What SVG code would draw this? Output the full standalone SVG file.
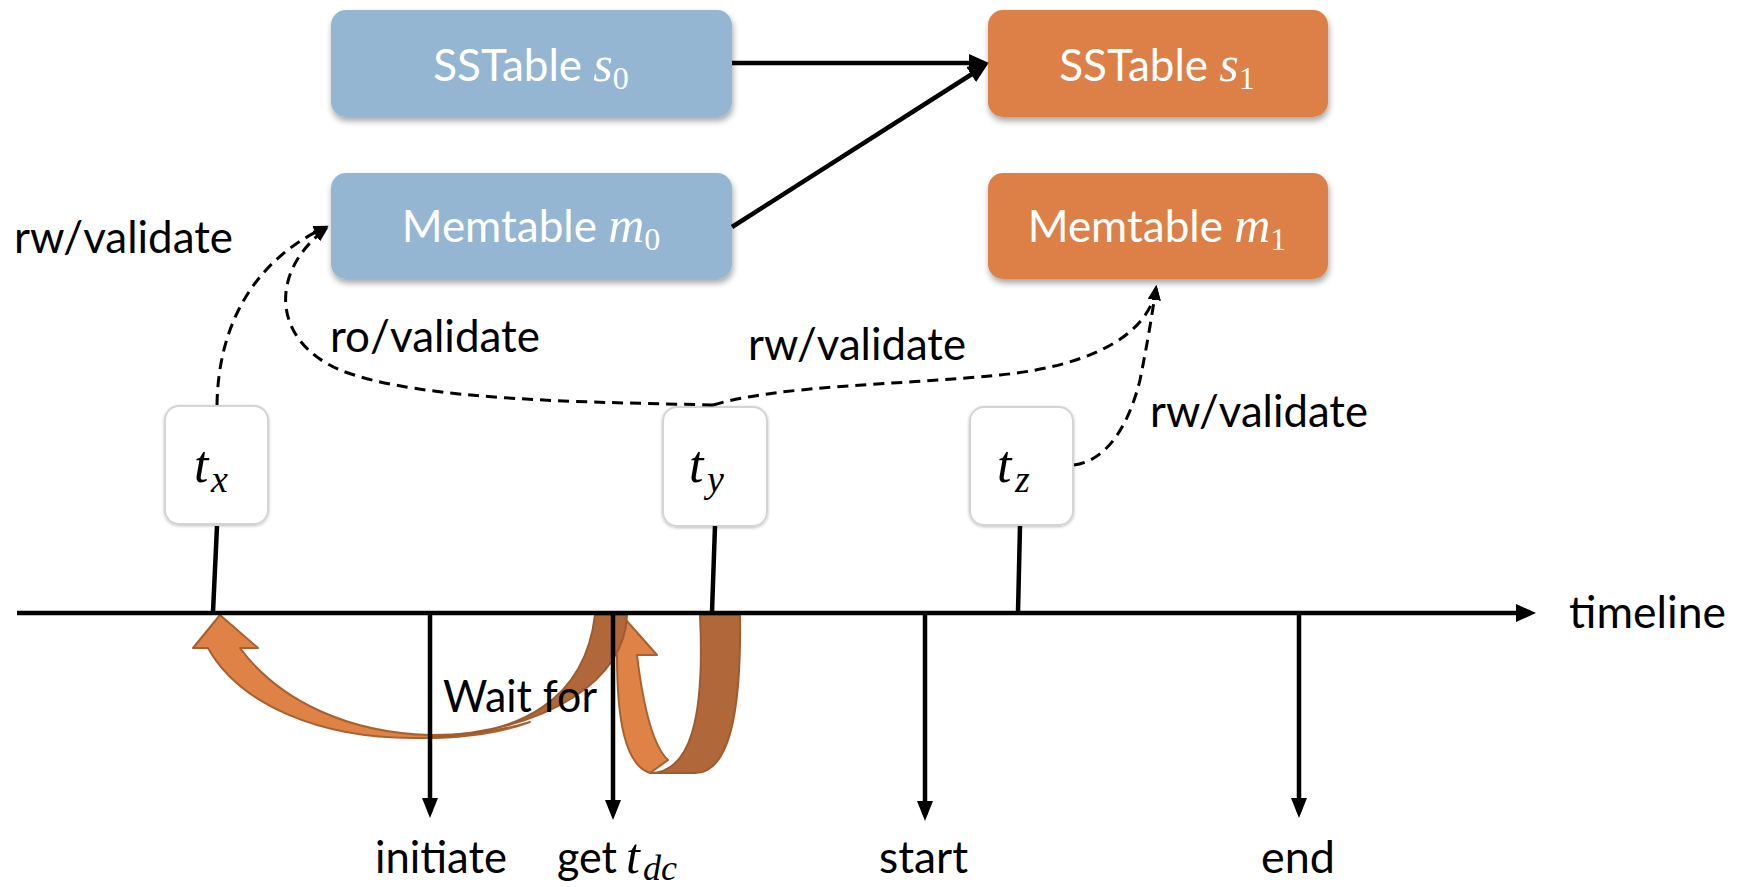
<svg xmlns="http://www.w3.org/2000/svg" width="1746" height="887" viewBox="0 0 1746 887">
<style>
.box-b{fill:#95B6D3;filter:url(#sh)}
.box-o{fill:#DD8047;filter:url(#sh)}
.tbox{fill:#fff;stroke:#d4d4d4;stroke-width:2;filter:url(#sh2)}
.wt{font-family:Lato,"Open Sans",sans-serif;font-size:44px;fill:#fff;text-anchor:middle}
.lbl{font-family:Lato,"Open Sans",sans-serif;font-size:44px;fill:#000}
.mi{font-family:"Liberation Serif",serif;font-style:italic}
.mu{font-family:"Liberation Serif",serif;font-style:normal}
.solid{stroke:#000;stroke-width:4.5;fill:none}
.dash{stroke:#000;stroke-width:3;fill:none;stroke-dasharray:11 7}
.olight{fill:#DF8246;stroke:#A8602F;stroke-width:2;stroke-linejoin:round}
.odark{fill:#B0683A;stroke:#A05A2C;stroke-width:2;stroke-linejoin:round}
</style>
<defs>
<filter id="sh" x="-10%" y="-20%" width="125%" height="150%">
<feDropShadow dx="1" dy="4" stdDeviation="3" flood-color="#000" flood-opacity="0.35"/>
</filter>
<filter id="sh2" x="-20%" y="-20%" width="140%" height="140%">
<feDropShadow dx="0" dy="1" stdDeviation="1.5" flood-color="#000" flood-opacity="0.25"/>
</filter>
<marker id="aL" markerUnits="userSpaceOnUse" markerWidth="20" markerHeight="18" viewBox="0 0 20 18" refX="14" refY="9" orient="auto">
<path d="M0,0 L20,9 L0,18 z" fill="#000"/>
</marker>
<marker id="aD" markerUnits="userSpaceOnUse" markerWidth="20" markerHeight="16" viewBox="0 0 20 16" refX="14" refY="8" orient="auto">
<path d="M0,0 L20,8 L0,16 z" fill="#000"/>
</marker>
<marker id="aS" markerUnits="userSpaceOnUse" markerWidth="15" markerHeight="13" viewBox="0 0 15 13" refX="12" refY="6.5" orient="auto">
<path d="M0,0 L15,6.5 L0,13 z" fill="#000"/>
</marker>
</defs>

<g id="sstable-s0">
<rect class="box-b" x="331" y="10" width="401" height="107" rx="15"/>
<text class="wt" x="531" y="81">SSTable <tspan class="mi" font-size="50">s</tspan><tspan class="mu" font-size="32" dy="8">0</tspan></text>
</g>
<g id="memtable-m0">
<rect class="box-b" x="331" y="173" width="401" height="106" rx="15"/>
<text class="wt" x="531" y="242">Memtable <tspan class="mi" font-size="50">m</tspan><tspan class="mu" font-size="32" dy="8">0</tspan></text>
</g>
<g id="sstable-s1">
<rect class="box-o" x="988" y="10" width="340" height="107" rx="15"/>
<text class="wt" x="1157" y="81">SSTable <tspan class="mi" font-size="50">s</tspan><tspan class="mu" font-size="32" dy="8">1</tspan></text>
</g>
<g id="memtable-m1">
<rect class="box-o" x="988" y="173" width="340" height="106" rx="15"/>
<text class="wt" x="1157" y="242">Memtable <tspan class="mi" font-size="50">m</tspan><tspan class="mu" font-size="32" dy="8">1</tspan></text>
</g>

<g id="orange-arrows">
<path class="odark" d="M700,615 L740,615 C741,690 735,773 695,773 L650,773 C690,773 705,720 700,615 Z"/>
<path class="olight" d="M626,620 L657,655 L637,655 C643,705 652,745 668,760 L650,773 C625,765 617,720 617,655 L597,655 Z"/>
<path class="olight" d="M220,615 L258,648 L240,648 C280,702 350,733 430,735 C470,735 505,730 530,722 C500,733 460,739 413,738 C320,738 240,705 208,648 L193,648 Z"/>
<path class="odark" d="M430,737 C520,735 585,700 595,615 L627,615 C625,680 550,730 430,737 Z"/>
</g>

<g id="tx">
<rect class="tbox" x="165" y="406" width="103" height="118" rx="14"/>
<text class="mi" x="194" y="482" font-size="52">t<tspan x="211" y="492" font-size="38">x</tspan></text>
</g>
<g id="ty">
<rect class="tbox" x="663" y="407" width="104" height="119" rx="14"/>
<text class="mi" x="689" y="482" font-size="52">t<tspan x="707" y="492" font-size="38">y</tspan></text>
</g>
<g id="tz">
<rect class="tbox" x="970" y="407" width="103" height="118" rx="14"/>
<text class="mi" x="997" y="482" font-size="52">t<tspan x="1015" y="492" font-size="38">z</tspan></text>
</g>

<g id="connectors">
<path class="solid" d="M732,63 L983,63" marker-end="url(#aL)"/>
<path class="solid" d="M732,227 L983,67" marker-end="url(#aL)"/>
<path class="solid" stroke-width="5" d="M217,526 L213,612"/>
<path class="solid" stroke-width="5" d="M715,526 L712,612"/>
<path class="solid" stroke-width="5" d="M1020,526 L1018,612"/>
<path class="solid" stroke-width="5" d="M17,613 L1530,613" marker-end="url(#aL)"/>
<path class="solid" stroke-width="4" d="M430,615 L430,812" marker-end="url(#aD)"/>
<path class="solid" stroke-width="4" d="M613,615 L613,814" marker-end="url(#aD)"/>
<path class="solid" stroke-width="4" d="M925,615 L925,815" marker-end="url(#aD)"/>
<path class="solid" stroke-width="4" d="M1299,615 L1299,812" marker-end="url(#aD)"/>
<path class="dash" d="M217,405 C218,330 250,262 326,227" marker-end="url(#aS)"/>
<path class="dash" d="M713,405 C600,402 420,402 340,370 C270,340 270,270 326,229" marker-end="url(#aS)"/>
<path class="dash" d="M713,405 C780,385 900,385 1000,375 C1100,365 1150,330 1156,288" marker-end="url(#aS)"/>
<path class="dash" d="M1074,465 C1110,460 1130,420 1140,380 C1148,340 1152,315 1156,288" marker-end="url(#aS)"/>
</g>

<g id="labels">
<text class="lbl" x="14" y="253" textLength="219" lengthAdjust="spacingAndGlyphs">rw/validate</text>
<text class="lbl" x="330" y="352" textLength="210" lengthAdjust="spacingAndGlyphs">ro/validate</text>
<text class="lbl" x="748" y="360" textLength="218" lengthAdjust="spacingAndGlyphs">rw/validate</text>
<text class="lbl" x="1150" y="427" textLength="218" lengthAdjust="spacingAndGlyphs">rw/validate</text>
<text class="lbl" x="443" y="712" textLength="154" lengthAdjust="spacingAndGlyphs">Wait for</text>
<text class="lbl" x="1569" y="628" textLength="157" lengthAdjust="spacingAndGlyphs">timeline</text>
<text class="lbl" x="375" y="873" textLength="132" lengthAdjust="spacingAndGlyphs">initiate</text>
<text class="lbl" x="557" y="873"><tspan textLength="60" lengthAdjust="spacingAndGlyphs">get</tspan><tspan class="mi" x="626" font-size="50">t</tspan><tspan class="mi" x="643" y="880" font-size="36">dc</tspan></text>
<text class="lbl" x="879" y="873" textLength="89" lengthAdjust="spacingAndGlyphs">start</text>
<text class="lbl" x="1261" y="873" textLength="74" lengthAdjust="spacingAndGlyphs">end</text>
</g>
</svg>
